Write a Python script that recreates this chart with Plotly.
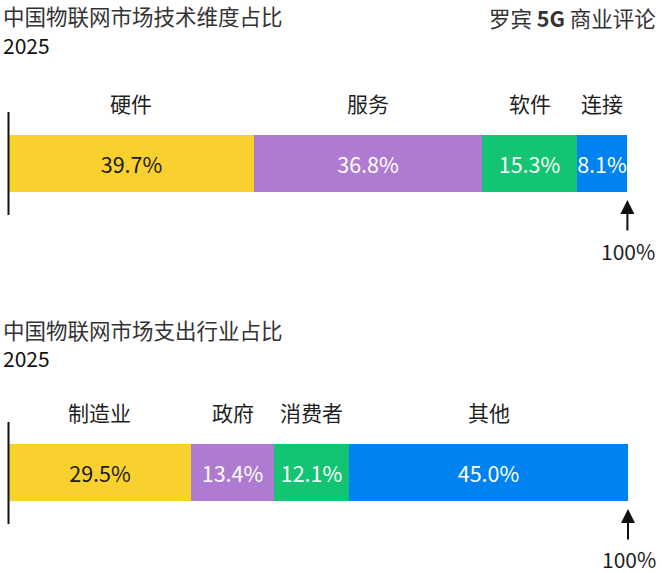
import plotly.graph_objects as go

# ---- data ----
tech_categories = ["硬件", "服务", "软件", "连接"]
tech_values = [39.7, 36.8, 15.3, 8.1]
industry_categories = ["制造业", "政府", "消费者", "其他"]
industry_values = [29.5, 13.4, 12.1, 45.0]
colors = ["#F9D12E", "#AE7AD2", "#13C472", "#0083F0"]
text_colors = ["#1a1a1a", "#ffffff", "#ffffff", "#ffffff"]
title_top = "中国物联网市场技术维度占比"
title_bottom = "中国物联网市场支出行业占比"
year_label = "2025"
source_label = "罗宾 <b>5G</b> 商业评论"
total_label = "100%"

W, H = 662, 573
FONT = "Noto Sans CJK SC, Noto Sans, sans-serif"
TEXT = "#1f1f1f"


def py(p):
    """pixel y (from top) -> paper y"""
    return 1 - p / H


fig = go.Figure()

panels = [
    dict(cats=tech_categories, vals=tech_values, xa="x", ya="y",
         bar=(135, 192), label_y=103, line=(112, 215), arrow=(200, 232),
         total_y=251, title_y=16, year_y=45),
    dict(cats=industry_categories, vals=industry_values, xa="x2", ya="y2",
         bar=(444, 501), label_y=412, line=(422, 524), arrow=(509, 541),
         total_y=559, title_y=329, year_y=358),
]

annotations = []
shapes = []
for i, p in enumerate(panels):
    for c, v, col, tc in zip(p["cats"], p["vals"], colors, text_colors):
        fig.add_trace(go.Bar(
            x=[v], y=[0], orientation="h", name=c,
            marker=dict(color=col, line=dict(width=0)),
            width=1,
            text=[f"{v:.1f}%"], textposition="inside", insidetextanchor="middle",
            constraintext="none", textangle=0,
            textfont=dict(family=FONT, size=21.5, color=tc),
            xaxis=p["xa"], yaxis=p["ya"], showlegend=False, hoverinfo="skip",
        ))
    # category labels above segments
    cum = 0
    for c, v in zip(p["cats"], p["vals"]):
        annotations.append(dict(
            x=cum + v / 2, y=py(p["label_y"]), xref=p["xa"], yref="paper",
            text=c, showarrow=False, xanchor="center", yanchor="middle",
            font=dict(family=FONT, size=21, color=TEXT)))
        cum += v
    # arrow to 100%
    annotations.append(dict(
        x=cum, y=py(p["arrow"][0]), xref=p["xa"], yref="paper",
        ax=0, ay=p["arrow"][1] - p["arrow"][0], axref="pixel", ayref="pixel",
        text="", showarrow=True, arrowhead=2, arrowsize=1.4, arrowwidth=2,
        arrowcolor="#111111"))
    annotations.append(dict(
        x=cum, y=py(p["total_y"]), xref=p["xa"], yref="paper",
        text=total_label, showarrow=False, xanchor="center", yanchor="middle",
        xshift=1, font=dict(family=FONT, size=21, color=TEXT)))
    # titles
    annotations.append(dict(
        x=0, y=py(p["title_y"]), xref="paper", yref="paper", xshift=1,
        text=[title_top, title_bottom][i], showarrow=False,
        xanchor="left", yanchor="middle",
        font=dict(family=FONT, size=21.5, color="#333333")))
    annotations.append(dict(
        x=0, y=py(p["year_y"]), xref="paper", yref="paper", xshift=1,
        text=year_label, showarrow=False, xanchor="left", yanchor="middle",
        font=dict(family=FONT, size=21, color="#111111")))
    # baseline vertical line
    shapes.append(dict(
        type="line", xref=p["xa"], yref="paper", x0=0, x1=0,
        y0=py(p["line"][0]), y1=py(p["line"][1]),
        line=dict(color="#111111", width=2)))

annotations.append(dict(
    x=1, y=py(17), xref="paper", yref="paper", xshift=-4,
    text=source_label, showarrow=False, xanchor="right", yanchor="middle",
    font=dict(family=FONT, size=21.5, color="#333333")))

# x mapping: value 0 at px 8.5, 100 at px 628
x0_px, x100_px = 8.5, 628.0
scale = (x100_px - x0_px) / 100.0
xrange = [-x0_px / scale, (W - x0_px) / scale]

axis_common = dict(visible=False, showgrid=False, zeroline=False, fixedrange=True)
fig.update_layout(
    width=W, height=H,
    margin=dict(l=0, r=0, t=0, b=0),
    paper_bgcolor="white", plot_bgcolor="rgba(0,0,0,0)",
    barmode="stack", bargap=0,
    font=dict(family=FONT),
    xaxis=dict(domain=[0, 1], range=xrange, anchor="y", **axis_common),
    yaxis=dict(domain=[py(192), py(135)], range=[-0.5, 0.5], anchor="x", **axis_common),
    xaxis2=dict(domain=[0, 1], range=xrange, anchor="y2", **axis_common),
    yaxis2=dict(domain=[py(501), py(444)], range=[-0.5, 0.5], anchor="x2", **axis_common),
    annotations=annotations,
    shapes=shapes,
    showlegend=False,
)

fig.write_html(
    "out.html",
    config={"displayModeBar": False},
    post_script="document.body.style.margin='0';document.body.style.overflow='hidden';",
)
